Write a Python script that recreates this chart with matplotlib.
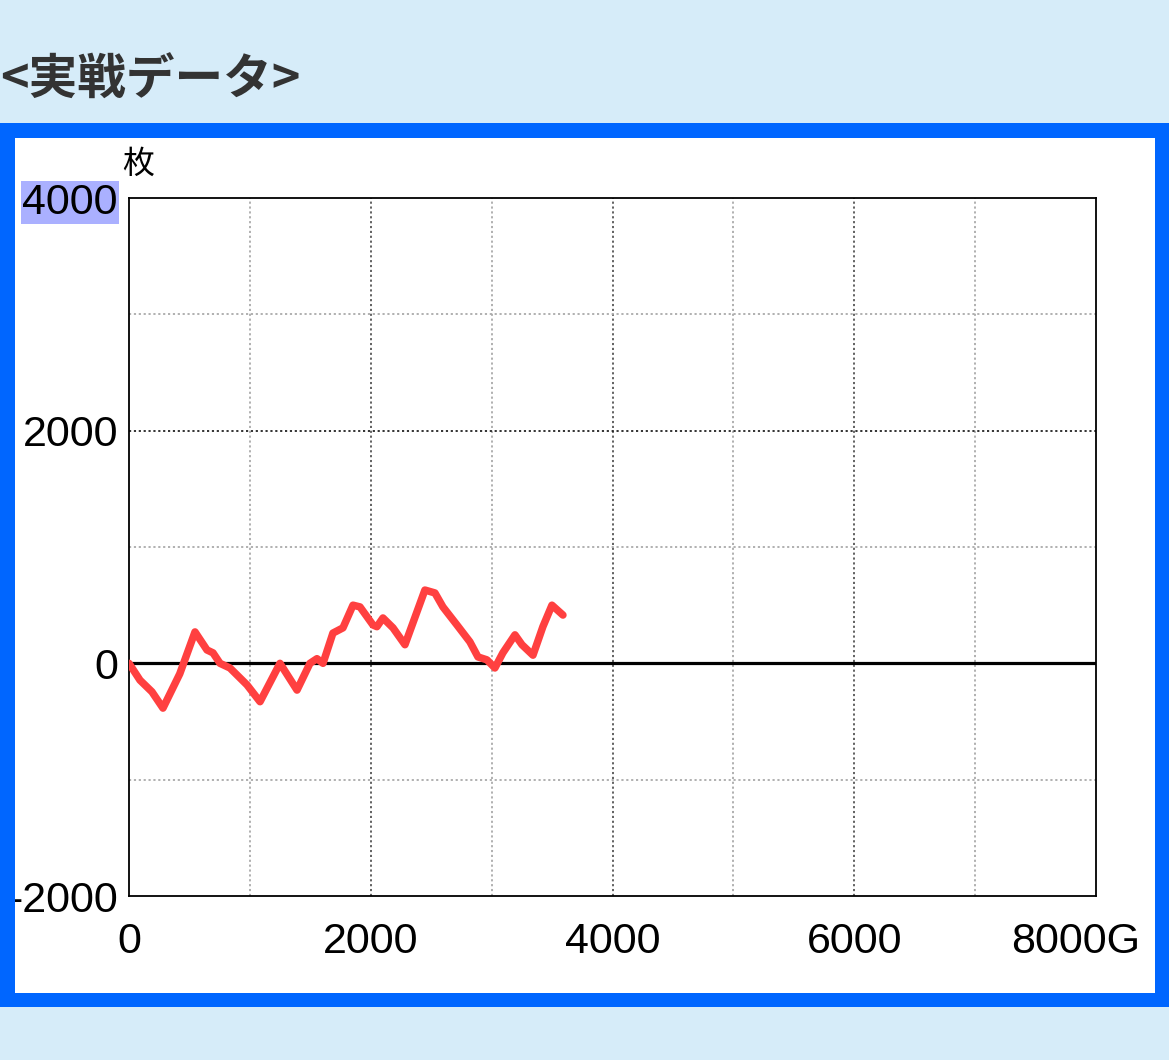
import numpy as np
import matplotlib.pyplot as plt
from matplotlib.patches import Rectangle
import matplotlib.transforms as mtransforms

plt.rcParams['font.family'] = ['Liberation Sans', 'Noto Sans CJK JP', 'DejaVu Sans']

# dane: gry (G) i saldo (枚)
games = [0, 91, 190, 281, 420, 546, 645, 695, 753, 835, 976, 1084, 1249, 1390,
         1497, 1555, 1605, 1687, 1770, 1853, 1911, 2018, 2051, 2101, 2184, 2283,
         2448, 2531, 2597, 2713, 2820, 2887, 2961, 3027, 3093, 3193, 3251, 3342,
         3424, 3499, 3590]
coins = [0, -145, -245, -385, -90, 270, 115, 90, 0, -40, -185, -330, 0, -230,
         0, 40, 0, 260, 305, 500, 485, 330, 315, 390, 305, 160,
         630, 605, 485, 330, 185, 55, 30, -40, 90, 245, 160, 70,
         315, 500, 415]

x_ticks = [0, 2000, 4000, 6000, 8000]
x_labels = ['0', '2000', '4000', '6000', '8000G']
y_ticks = [-2000, 0, 2000, 4000]
y_labels = ['-2000', '0', '2000', '4000']

W, H = 1169, 1060
fig = plt.figure(figsize=(W / 100, H / 100), dpi=100)
fig.patch.set_facecolor('#d6ecf9')

# niebieska ramka i biale tlo
fig.patches.append(Rectangle((0, 1 - 1007 / H), 1, (1007 - 123) / H,
                             transform=fig.transFigure, facecolor='#0066ff',
                             edgecolor='none', zorder=-10))
white = Rectangle((15 / W, 1 - 993 / H), (1155 - 15) / W, (993 - 138) / H,
                  transform=fig.transFigure, facecolor='white',
                  edgecolor='none', zorder=-9)
fig.patches.append(white)

fig.text(0, 1 - 80 / H, '<実戦データ>', fontsize=35, fontweight='bold',
         color='#333333', va='center', ha='left',
         family=['Noto Sans CJK JP', 'DejaVu Sans'])

ax = fig.add_axes([129 / W, 1 - 896 / H, (1096 - 129) / W, (896 - 198) / H])
ax.set_facecolor('white')
ax.set_xlim(0, 8000)
ax.set_ylim(-2000, 4000)

# siatka
for gx in range(1000, 8000, 1000):
    dark = gx % 2000 == 0
    ax.axvline(gx, color='#555555' if dark else '#aaaaaa', lw=1.3,
               ls=(0, (1.2, 1.5)), zorder=1)
for gy in range(-1000, 4000, 1000):
    if gy == 0:
        continue
    dark = gy % 2000 == 0
    ax.axhline(gy, color='#222222' if dark else '#aaaaaa', lw=1.3,
               ls=(0, (1.2, 1.5)), zorder=1)
ax.axhline(0, color='black', lw=2.3, zorder=2)

ax.plot(games, coins, color='#ff4040', lw=5.4, solid_joinstyle='round',
        solid_capstyle='round', zorder=3)

for s in ax.spines.values():
    s.set_linewidth(1.3)
    s.set_color('black')

ax.set_xticks(x_ticks)
ax.set_xticklabels(x_labels)
ax.set_yticks(y_ticks)
ax.set_yticklabels(y_labels)
ax.tick_params(length=0, labelsize=31, pad=19)
ax.tick_params(axis='y', pad=8)

xl = ax.get_xticklabels()
xl[-1].set_transform(xl[-1].get_transform() +
                     mtransforms.ScaledTranslation(-20 / 100, 0, fig.dpi_scale_trans))

yl = ax.get_yticklabels()
yl[-1].set_bbox(dict(facecolor='#aab0ff', edgecolor='none', pad=1))
# "-2000" przyciete przez ramke
yl[0].set_clip_on(True)
yl[0].set_clip_path(white)

fig.text(122 / W, 1 - 164 / H, '枚', fontsize=23, color='black', va='center',
         ha='left', family=['Noto Sans CJK JP', 'DejaVu Sans'])

fig.savefig('out.png', dpi=100, facecolor=fig.get_facecolor())
